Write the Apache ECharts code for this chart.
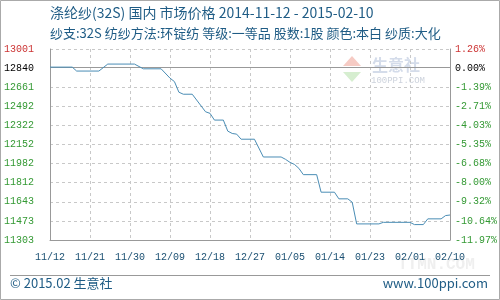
<!DOCTYPE html>
<html>
<head>
<meta charset="utf-8">
<script src="https://cdn.jsdelivr.net/npm/echarts@6/dist/echarts.min.js"></script>
<style>
html,body{margin:0;padding:0;background:#fff;}
#c{width:500px;height:300px;}
</style>
</head>
<body>
<div id="c"></div>
<script>
// ---- data ----
var startDate = '2014-11-12';
var dates = ['2014-11-12','2014-11-17','2014-11-18','2014-11-23','2014-11-25','2014-12-01','2014-12-03','2014-12-07',
  '2014-12-09','2014-12-10','2014-12-11','2014-12-12','2014-12-14','2014-12-17','2014-12-18','2014-12-19','2014-12-21',
  '2014-12-22','2014-12-23','2014-12-24','2014-12-25','2014-12-28','2014-12-30','2015-01-03','2015-01-04','2015-01-05',
  '2015-01-06','2015-01-07','2015-01-08','2015-01-11','2015-01-12','2015-01-15','2015-01-16','2015-01-18','2015-01-19',
  '2015-01-20','2015-01-25','2015-01-26','2015-02-01','2015-02-02','2015-02-04','2015-02-05','2015-02-08','2015-02-09','2015-02-10'];
var prices = [12840,12840,12805,12805,12867,12867,12825,12825,
  12742,12711,12617,12599,12599,12443,12429,12369,12369,
  12271,12250,12244,12199,12199,12041,12041,12020,11993,
  11975,11940,11884,11884,11728,11728,11669,11669,11639,
  11446,11446,11460,11460,11440,11440,11491,11491,11520,11525];
var xTickLabels = ['11/12','11/21','11/30','12/09','12/18','12/27','01/05','01/14','01/23','02/01','02/10'];
var yTickLabels = ['11303','11473','11643','11812','11982','12152','12322','12492','12661','12840','13001'];
var pctTickLabels = ['-11.97%','-10.64%','-9.32%','-8.00%','-6.68%','-5.35%','-4.03%','-2.71%','-1.39%','0.00%','1.26%'];
var basePrice = 12840;
var yMin = 11303, yMax = 13001;
var titleText = '涤纶纱(32S) 国内 市场价格 2014-11-12 - 2015-02-10';
var subText = '纱支:32S 纺纱方法:环锭纺 等级:一等品 股数:1股 颜色:本白 纱质:大化';
var footLeft = '© 2015.02 生意社';
var footRight = 'www.100ppi.com';

// ---- build ----
var t0 = Date.parse(startDate + 'T00:00:00Z');
var seriesData = dates.map(function (d, i) {
  return [Math.round((Date.parse(d + 'T00:00:00Z') - t0) / 86400000), prices[i]];
});
var yInterval = (yMax - yMin) / (yTickLabels.length - 1);
function tickIndex(v) { return Math.round((v - yMin) / yInterval); }
function labelColor(v) {
  var i = tickIndex(v);
  if (i === yTickLabels.length - 1) return '#cc3333';
  if (i === yTickLabels.length - 2) return '#000000';
  return '#339933';
}
var splitColors = yTickLabels.map(function (_, i) { return i === yTickLabels.length - 2 ? 'rgba(0,0,0,0)' : '#c8c8c8'; });

var chart = echarts.init(document.getElementById('c'), null, {renderer: 'canvas'});
var mono = '"Liberation Mono", "DejaVu Sans Mono", monospace';
var cjk = '"Noto Sans CJK SC", "Noto Sans", sans-serif';
chart.setOption({
  animation: false,
  backgroundColor: '#ffffff',
  grid: {left: 50, right: 50, top: 49, bottom: 60, containLabel: false},
  xAxis: {
    type: 'value', min: 0, max: 90, interval: 9,
    axisLine: {show: true, lineStyle: {color: '#999999', width: 1}},
    axisTick: {show: false},
    splitLine: {show: true, showMinLine: true, showMaxLine: true, lineStyle: {color: '#c8c8c8', type: [3, 3], width: 1}},
    axisLabel: {
      margin: 12, fontFamily: mono, fontSize: 10, color: '#1a4f72',
      formatter: function (v) { return xTickLabels[Math.round(v / 9)] || ''; }
    }
  },
  yAxis: [{
    type: 'value', min: yMin, max: yMax, interval: yInterval, position: 'left',
    axisLine: {show: true, lineStyle: {color: '#999999', width: 1}},
    axisTick: {show: false},
    splitLine: {show: true, showMinLine: true, showMaxLine: true, lineStyle: {color: splitColors, type: [3, 3], width: 1}},
    axisLabel: {
      margin: 16, fontFamily: mono, fontSize: 10,
      color: function (v) { return labelColor(v); },
      formatter: function (v) { return yTickLabels[tickIndex(v)] || ''; }
    }
  }, {
    type: 'value', min: yMin, max: yMax, interval: yInterval, position: 'right',
    axisLine: {show: true, lineStyle: {color: '#999999', width: 1}},
    axisTick: {show: false},
    splitLine: {show: false},
    axisLabel: {
      margin: 5, fontFamily: mono, fontSize: 10,
      color: function (v) { return labelColor(v); },
      formatter: function (v) { return pctTickLabels[tickIndex(v)] || ''; }
    }
  }],
  series: [{
    type: 'line', data: seriesData, showSymbol: false, symbol: 'none',
    lineStyle: {color: '#4a8db5', width: 1},
    z: 5,
    markLine: {
      silent: true, symbol: 'none', label: {show: false},
      lineStyle: {color: '#999999', type: 'solid', width: 1},
      data: [{yAxis: basePrice}],
      z: 3
    }
  }],
  graphic: [
    {type: 'rect', shape: {x: 0.5, y: 0.5, width: 499, height: 299}, style: {fill: 'none', stroke: '#aaaaaa', lineWidth: 1}, silent: true},
    {type: 'text', left: 50, top: 6, style: {text: titleText, font: '14px ' + cjk, fill: '#1f5c85'}},
    {type: 'text', left: 50, top: 27, style: {text: subText, font: '13px ' + cjk, fill: '#1f5c85'}},
    {type: 'line', shape: {x1: 10, y1: 275.5, x2: 490, y2: 275.5}, style: {stroke: '#999999', lineWidth: 1}},
    {type: 'text', left: 10, top: 277, style: {text: footLeft, font: '13px ' + cjk, fill: '#1f5c85'}},
    {type: 'text', right: 12, top: 277, style: {text: footRight, font: '13px ' + cjk, fill: '#1f5c85'}},
    {type: 'polygon', shape: {points: [[352, 56], [343, 66], [361, 66]]}, style: {fill: '#f6cbc4'}, silent: true},
    {type: 'polygon', shape: {points: [[343, 72], [361, 72], [352, 82]]}, style: {fill: '#d6eed0'}, silent: true},
    {type: 'text', left: 372, top: 57, style: {text: '生意社', font: 'bold 16px ' + cjk, fill: '#d4dcea'}, silent: true},
    {type: 'text', left: 371, top: 76, style: {text: '100PPI.COM', font: '9px ' + mono, fill: '#ccd2dc'}, silent: true},
    {type: 'text', left: 398, top: 257, style: {text: 'TTMN.COM', font: 'bold 16px ' + mono, fill: 'rgba(235,235,235,0.8)'}, silent: true}
  ]
});
</script>
</body>
</html>
